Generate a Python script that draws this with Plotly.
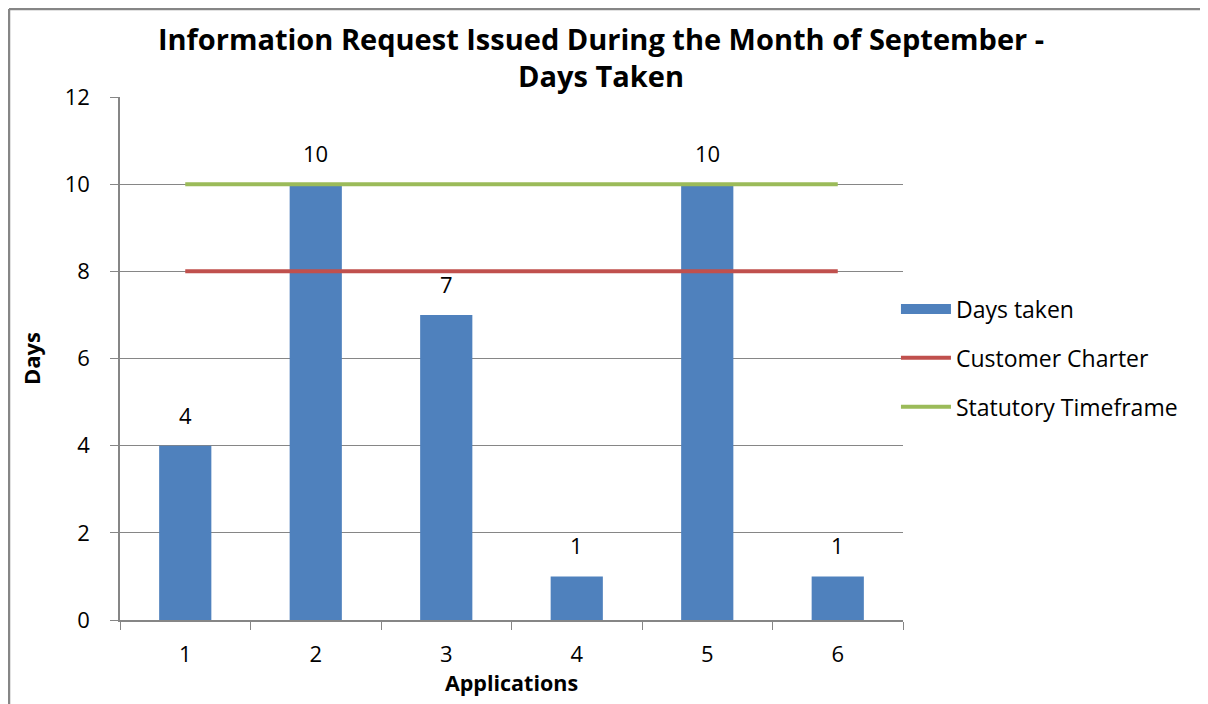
import plotly.graph_objects as go

applications = ["1", "2", "3", "4", "5", "6"]
days_taken = [4, 10, 7, 1, 10, 1]
customer_charter = [8, 8, 8, 8, 8, 8]
statutory_timeframe = [10, 10, 10, 10, 10, 10]
y_ticks = [0, 2, 4, 6, 8, 10, 12]

FONT = "Open Sans, Lato, Liberation Sans, sans-serif"
BLUE, RED, GREEN = "#4F81BD", "#C0504D", "#9BBB59"

W, H = 1200, 696
L, T, PW, PH = 112, 89, 783, 523

fig = go.Figure()
fig.add_trace(go.Bar(
    x=applications, y=days_taken, name="Days taken",
    marker=dict(color=BLUE, line=dict(width=0)),
    legendgroup="g0", showlegend=False,
))
# legend key for the bars drawn as a wide block, like the original
fig.add_trace(go.Scatter(
    x=[None], y=[None], name="Days taken", mode="lines",
    line=dict(color=BLUE, width=14), legendgroup="g0", hoverinfo="skip",
))
fig.add_trace(go.Scatter(
    x=applications, y=customer_charter, name="Customer Charter",
    mode="lines", line=dict(color=RED, width=4), legendgroup="g1",
))
fig.add_trace(go.Scatter(
    x=applications, y=statutory_timeframe, name="Statutory Timeframe",
    mode="lines", line=dict(color=GREEN, width=4), legendgroup="g2",
))

# data labels above bars (category position index on the x axis)
for idx, v in enumerate(days_taken):
    fig.add_annotation(
        x=idx, y=v, text=str(v), showarrow=False, yanchor="bottom",
        yshift=14, font=dict(size=22, family=FONT, color="#000000"),
    )

fig.update_layout(
    width=W, height=H,
    margin=dict(l=L, r=W - L - PW, t=T, b=H - T - PH),
    paper_bgcolor="white", plot_bgcolor="white",
    font=dict(family=FONT, size=22, color="#000000"),
    bargap=0.6,
    showlegend=True,
    title=dict(
        text="<b>Information Request Issued During the Month of September -<br>Days Taken</b>",
        x=593 / W, xanchor="center", y=0.94, yanchor="top",
        font=dict(size=29, family=FONT, color="#000000"),
    ),
    legend=dict(
        x=0.991, xanchor="left", y=0.501, yanchor="middle",
        font=dict(size=23, family=FONT, color="#000000"),
        bgcolor="rgba(0,0,0,0)", itemwidth=50, tracegroupgap=16,
        traceorder="grouped",
    ),
    xaxis=dict(
        type="category", tickson="boundaries", ticks="outside", ticklen=8,
        tickcolor="#868686", showline=True, linecolor="#868686", linewidth=1.5,
        showgrid=False, tickfont=dict(size=22), ticklabelstandoff=14,
        range=[-0.5, len(applications) - 0.5],
        title=dict(text="<b>Applications</b>", font=dict(size=21.5), standoff=4),
    ),
    yaxis=dict(
        range=[0, 12], tickvals=y_ticks, ticks="outside", ticklen=8,
        tickcolor="#868686", showline=True, linecolor="#868686", linewidth=1.5,
        showgrid=True, gridcolor="#868686", gridwidth=1, zeroline=False,
        tickfont=dict(size=22), ticklabelstandoff=16,
        title=dict(text="<b>Days</b>", font=dict(size=22), standoff=18),
    ),
)

# outer chart frame (top and left edges)
fig.add_shape(
    type="line", xref="paper", yref="paper",
    x0=(1 - L) / PW, x1=(W + 20 - L) / PW,
    y0=(T + PH - 1) / PH, y1=(T + PH - 1) / PH,
    line=dict(color="#868686", width=2.5),
)
fig.add_shape(
    type="line", xref="paper", yref="paper",
    x0=(1 - L) / PW, x1=(1 - L) / PW,
    y0=(T + PH - 1) / PH, y1=-0.3,
    line=dict(color="#868686", width=2.5),
)

fig.write_html("out.html")
